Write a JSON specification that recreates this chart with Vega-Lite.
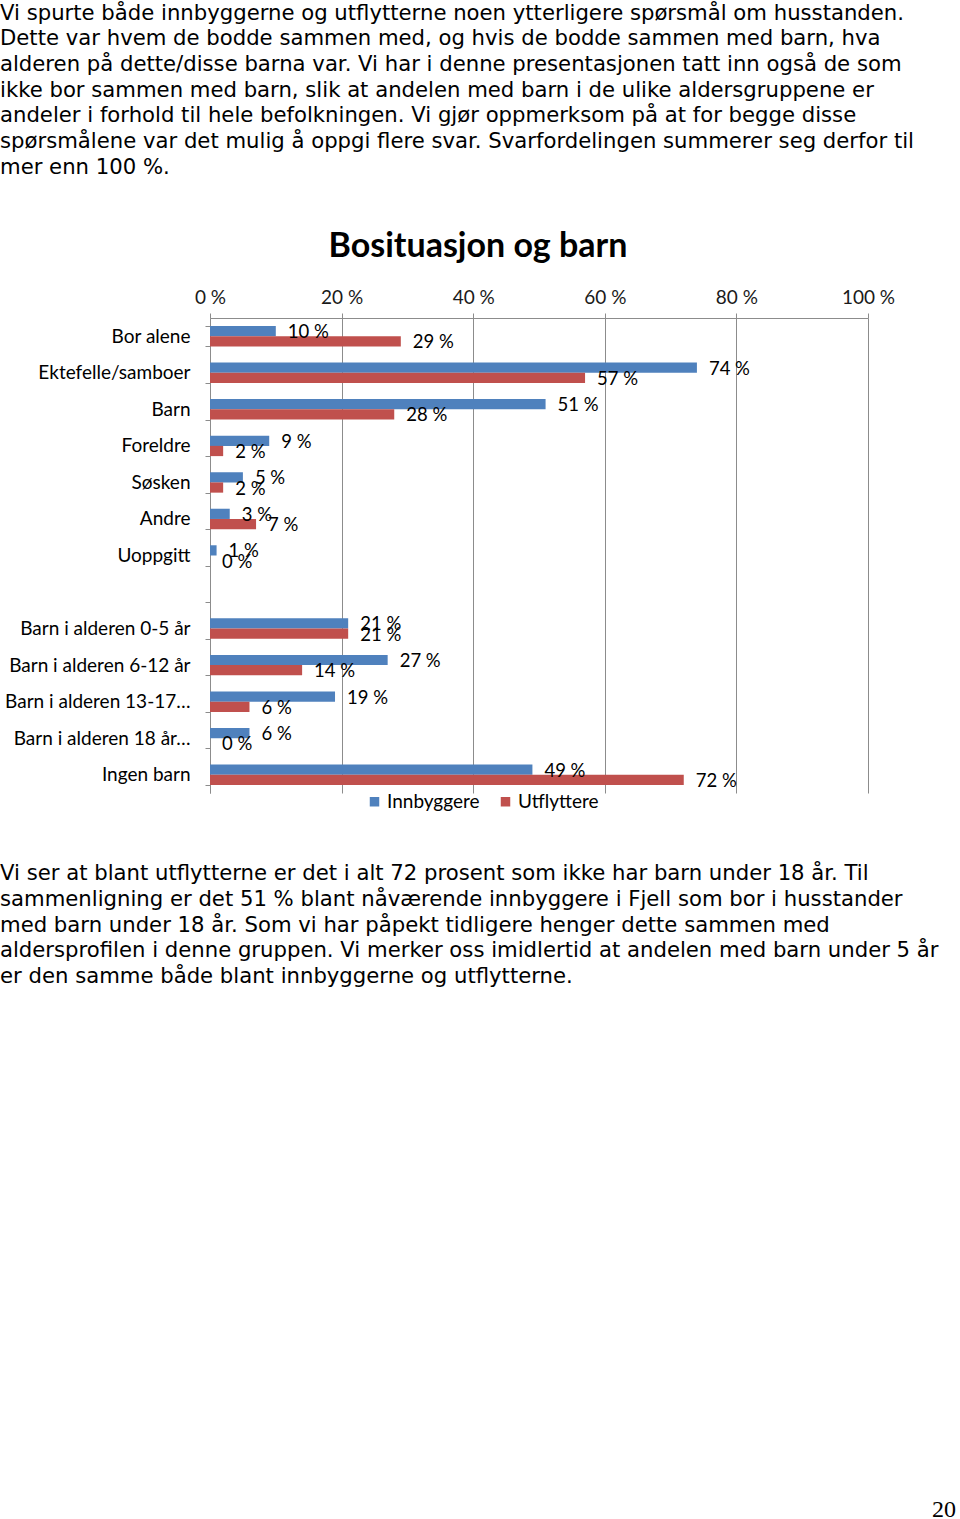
{
  "$schema": "https://vega.github.io/schema/vega-lite/v6.json",
  "background": "white",
  "padding": {"left": 0, "top": 2, "right": 0, "bottom": 0},
  "title": {
    "text": [
      "Vi spurte både innbyggerne og utflytterne noen ytterligere spørsmål om husstanden.",
      "Dette var hvem de bodde sammen med, og hvis de bodde sammen med barn, hva",
      "alderen på dette/disse barna var. Vi har i denne presentasjonen tatt inn også de som",
      "ikke bor sammen med barn, slik at andelen med barn i de ulike aldersgruppene er",
      "andeler i forhold til hele befolkningen. Vi gjør oppmerksom på at for begge disse",
      "spørsmålene var det mulig å oppgi flere svar. Svarfordelingen summerer seg derfor til",
      "mer enn 100 %."
    ],
    "anchor": "start",
    "font": "DejaVu Sans",
    "fontSize": 21.2,
    "fontWeight": "normal",
    "lineHeight": 25.7,
    "color": "#000000",
    "offset": 52
  },
  "config": {
    "view": {"stroke": null},
    "locale": {
      "number": {"decimal": ",", "thousands": " ", "grouping": [3], "currency": ["", " kr"], "percent": " %"}
    }
  },
  "resolve": {"legend": {"color": "independent"}},
  "spacing": 51,
  "vconcat": [
    {
      "width": 658,
      "height": 475,
      "title": {
        "text": "Bosituasjon og barn",
        "font": "Lato",
        "fontSize": 34,
        "fontWeight": "bold",
        "color": "#000000",
        "anchor": "middle",
        "frame": "group",
        "dx": -61,
        "offset": 24
      },
      "data": {
        "values": [
          {"kategori": "Bor alene", "gruppe": "Innbyggere", "andel": 0.10},
          {"kategori": "Bor alene", "gruppe": "Utflyttere", "andel": 0.29},
          {"kategori": "Ektefelle/samboer", "gruppe": "Innbyggere", "andel": 0.74},
          {"kategori": "Ektefelle/samboer", "gruppe": "Utflyttere", "andel": 0.57},
          {"kategori": "Barn", "gruppe": "Innbyggere", "andel": 0.51},
          {"kategori": "Barn", "gruppe": "Utflyttere", "andel": 0.28},
          {"kategori": "Foreldre", "gruppe": "Innbyggere", "andel": 0.09},
          {"kategori": "Foreldre", "gruppe": "Utflyttere", "andel": 0.02},
          {"kategori": "Søsken", "gruppe": "Innbyggere", "andel": 0.05},
          {"kategori": "Søsken", "gruppe": "Utflyttere", "andel": 0.02},
          {"kategori": "Andre", "gruppe": "Innbyggere", "andel": 0.03},
          {"kategori": "Andre", "gruppe": "Utflyttere", "andel": 0.07},
          {"kategori": "Uoppgitt", "gruppe": "Innbyggere", "andel": 0.01},
          {"kategori": "Uoppgitt", "gruppe": "Utflyttere", "andel": 0.0},
          {"kategori": "Barn i alderen 0-5 år", "gruppe": "Innbyggere", "andel": 0.21},
          {"kategori": "Barn i alderen 0-5 år", "gruppe": "Utflyttere", "andel": 0.21},
          {"kategori": "Barn i alderen 6-12 år", "gruppe": "Innbyggere", "andel": 0.27},
          {"kategori": "Barn i alderen 6-12 år", "gruppe": "Utflyttere", "andel": 0.14},
          {"kategori": "Barn i alderen 13-17…", "gruppe": "Innbyggere", "andel": 0.19},
          {"kategori": "Barn i alderen 13-17…", "gruppe": "Utflyttere", "andel": 0.06},
          {"kategori": "Barn i alderen 18 år…", "gruppe": "Innbyggere", "andel": 0.06},
          {"kategori": "Barn i alderen 18 år…", "gruppe": "Utflyttere", "andel": 0.0},
          {"kategori": "Ingen barn", "gruppe": "Innbyggere", "andel": 0.49},
          {"kategori": "Ingen barn", "gruppe": "Utflyttere", "andel": 0.72}
        ]
      },
      "encoding": {
        "y": {
          "field": "kategori",
          "type": "nominal",
          "sort": null,
          "scale": {
            "domain": ["Bor alene", "Ektefelle/samboer", "Barn", "Foreldre", "Søsken", "Andre", "Uoppgitt", " ", "Barn i alderen 0-5 år", "Barn i alderen 6-12 år", "Barn i alderen 13-17…", "Barn i alderen 18 år…", "Ingen barn"],
            "paddingInner": 0.44,
            "paddingOuter": 0.22
          },
          "axis": {
            "title": null,
            "grid": false,
            "domainColor": "#8c8c8c",
            "tickColor": "#8c8c8c",
            "tickSize": 5,
            "tickBand": "extent",
            "labelFont": "Lato",
            "labelFontSize": 19,
            "labelColor": "#000000",
            "labelPadding": 15,
            "labelLimit": 300,
            "minExtent": 210,
            "maxExtent": 210
          }
        },
        "x": {
          "field": "andel",
          "type": "quantitative",
          "scale": {"domain": [0, 1], "nice": false},
          "axis": {
            "orient": "top",
            "title": null,
            "values": [0, 0.2, 0.4, 0.6, 0.8, 1],
            "format": ".0%",
            "grid": true,
            "gridColor": "#8c8c8c",
            "domainColor": "#8c8c8c",
            "tickColor": "#8c8c8c",
            "tickSize": 5,
            "labelFlush": false,
            "labelFont": "Lato",
            "labelFontSize": 19,
            "labelColor": "#1a1a1a",
            "labelPadding": 6
          }
        },
        "yOffset": {
          "field": "gruppe",
          "type": "nominal",
          "sort": ["Innbyggere", "Utflyttere"],
          "scale": {"paddingInner": 0, "paddingOuter": 0}
        }
      },
      "layer": [
        {
          "mark": {"type": "bar"},
          "encoding": {
            "color": {
              "field": "gruppe",
              "type": "nominal",
              "scale": {"domain": ["Innbyggere", "Utflyttere"], "range": ["#4F81BD", "#C0504D"]},
              "legend": {
                "orient": "none",
                "legendX": 155,
                "legendY": 474,
                "direction": "horizontal",
                "title": null,
                "symbolType": "square",
                "symbolSize": 90,
                "symbolStrokeWidth": 0,
                "labelFont": "Lato",
                "labelFontSize": 19,
                "labelColor": "#000000",
                "labelOffset": 3,
                "columnPadding": 16
              }
            }
          }
        },
        {
          "mark": {"type": "text", "align": "left", "baseline": "middle", "dx": 12, "dy": 1, "font": "Lato", "fontSize": 18.5},
          "encoding": {
            "text": {"field": "andel", "type": "quantitative", "format": ".0%"},
            "color": {"value": "#000000"}
          }
        }
      ]
    },
    {
      "width": 730,
      "height": 455,
      "data": {"values": [{}]},
      "mark": {"type": "text"},
      "title": {
        "text": [
          "Vi ser at blant utflytterne er det i alt 72 prosent som ikke har barn under 18 år. Til",
          "sammenligning er det 51 % blant nåværende innbyggere i Fjell som bor i husstander",
          "med barn under 18 år. Som vi har påpekt tidligere henger dette sammen med",
          "aldersprofilen i denne gruppen. Vi merker oss imidlertid at andelen med barn under 5 år",
          "er den samme både blant innbyggerne og utflytterne."
        ],
        "anchor": "start",
        "frame": "group",
        "dx": -210,
        "font": "DejaVu Sans",
        "fontSize": 21.2,
        "fontWeight": "normal",
        "lineHeight": 25.6,
        "color": "#000000",
        "offset": 4
      }
    },
    {
      "width": 746,
      "height": 1,
      "data": {"values": [{}]},
      "mark": {"type": "text"},
      "title": {
        "text": "20",
        "anchor": "end",
        "frame": "group",
        "font": "Liberation Serif",
        "fontSize": 24,
        "fontWeight": "normal",
        "color": "#000000",
        "offset": 4
      }
    }
  ]
}
